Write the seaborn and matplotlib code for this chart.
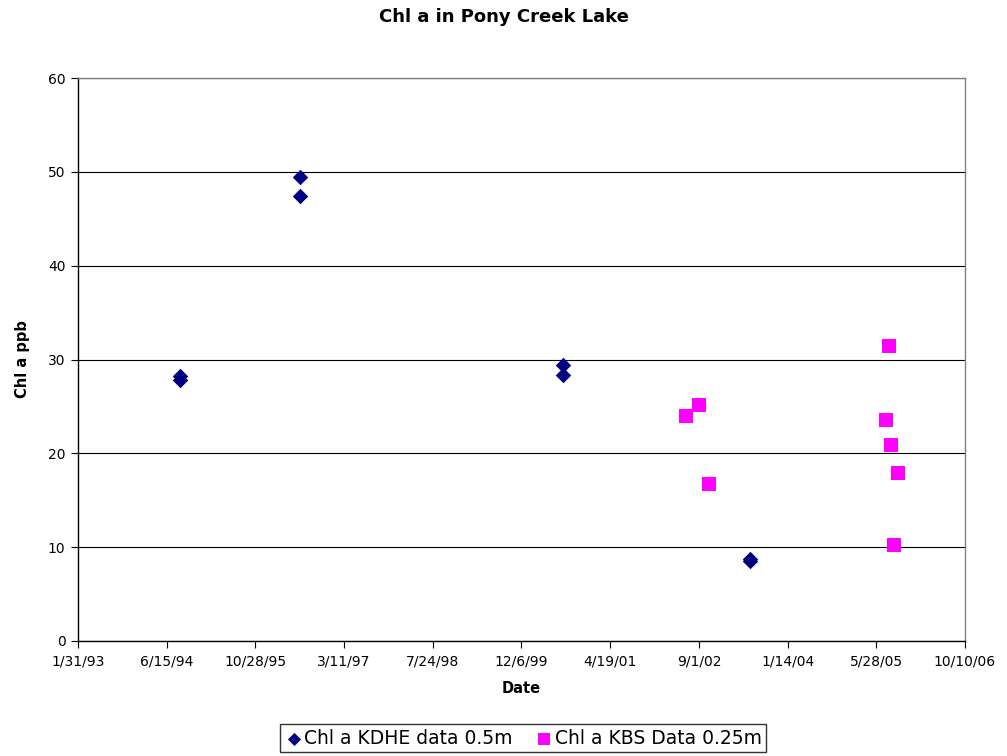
import matplotlib
matplotlib.use("Agg")
import matplotlib.pyplot as plt
import matplotlib.dates as mdates
import seaborn as sns
import pandas as pd

kdhe_dates = ["1994-08-29", "1994-08-29", "1996-07-05", "1996-07-05",
              "2000-07-28", "2000-07-28", "2003-06-17", "2003-06-17"]
kdhe_vals = [28.2, 27.8, 49.4, 47.4, 29.4, 28.3, 8.7, 8.5]

kbs_dates = ["2002-06-19", "2002-09-01", "2002-10-28", "2005-07-20",
             "2005-08-07", "2005-08-17", "2005-09-04", "2005-09-28"]
kbs_vals = [24.0, 25.1, 16.7, 23.5, 31.4, 20.9, 10.2, 17.9]

tick_labels = ["1/31/93", "6/15/94", "10/28/95", "3/11/97", "7/24/98", "12/6/99",
               "4/19/01", "9/1/02", "1/14/04", "5/28/05", "10/10/06"]
y_ticks = [0, 10, 20, 30, 40, 50, 60]

label_kdhe = "Chl a KDHE data 0.5m"
label_kbs = "Chl a KBS Data 0.25m"

df = pd.DataFrame({
    "Date": pd.to_datetime(kdhe_dates + kbs_dates),
    "Chl": kdhe_vals + kbs_vals,
    "Series": [label_kdhe] * len(kdhe_vals) + [label_kbs] * len(kbs_vals),
})

sns.set_style("white")
plt.rcParams["font.family"] = ["DejaVu Sans"]
plt.rcParams["text.color"] = "black"
plt.rcParams["axes.labelcolor"] = "black"
plt.rcParams["xtick.color"] = "black"
plt.rcParams["ytick.color"] = "black"

fig = plt.figure(figsize=(10.07, 7.56), dpi=100)
ax = fig.add_axes([78 / 1007, 1 - 641 / 756, (965 - 78) / 1007, (641 - 78) / 756])

navy = "#000080"
magenta = "#FF00FF"
sns.scatterplot(data=df[df["Series"] == label_kdhe], x="Date", y="Chl",
                color=navy, marker="D", s=62, linewidth=0, ax=ax, zorder=3,
                label=label_kdhe)
sns.scatterplot(data=df[df["Series"] == label_kbs], x="Date", y="Chl",
                color=magenta, marker="s", s=95, linewidth=0, ax=ax, zorder=3,
                label=label_kbs)

tick_dates = pd.to_datetime(tick_labels, format="%m/%d/%y")
ax.set_xlim(mdates.date2num(tick_dates[0]), mdates.date2num(tick_dates[-1]))
ax.set_xticks(mdates.date2num(tick_dates))
ax.set_xticklabels(tick_labels)
ax.set_ylim(0, 60)
ax.set_yticks(y_ticks)

ax.yaxis.grid(True, color="#000000", linewidth=0.8)
ax.set_axisbelow(True)
for side in ["top", "right"]:
    ax.spines[side].set_color("#808080")
    ax.spines[side].set_linewidth(1)
for side in ["left", "bottom"]:
    ax.spines[side].set_color("#000000")
    ax.spines[side].set_linewidth(1)

ax.tick_params(axis="both", which="major", direction="out", length=5, width=0.8,
               color="#000000", labelcolor="#000000", labelsize=10,
               bottom=True, left=True)
ax.tick_params(axis="x", pad=5)
ax.tick_params(axis="y", pad=4)

ax.set_xlabel("Date", fontsize=10.5, fontweight="bold", labelpad=9, color="black")
ax.set_ylabel("Chl a ppb", fontsize=10.5, fontweight="bold", labelpad=13, color="black")
fig.suptitle("Chl a in Pony Creek Lake", fontsize=13, fontweight="bold", y=0.99,
             color="black")

handles, labels = ax.get_legend_handles_labels()
ax.get_legend().remove()
leg = fig.legend(handles, labels, loc="center", bbox_to_anchor=(523 / 1007, 1 - 738 / 756),
                 ncol=2, frameon=True, fancybox=False, edgecolor="#000000",
                 fontsize=13.5, handletextpad=0.05, columnspacing=1.2,
                 borderpad=0.25, handlelength=1.0, markerscale=0.85,
                 labelcolor="black")
leg.get_frame().set_linewidth(1)

fig.savefig("out.png", dpi=100)
